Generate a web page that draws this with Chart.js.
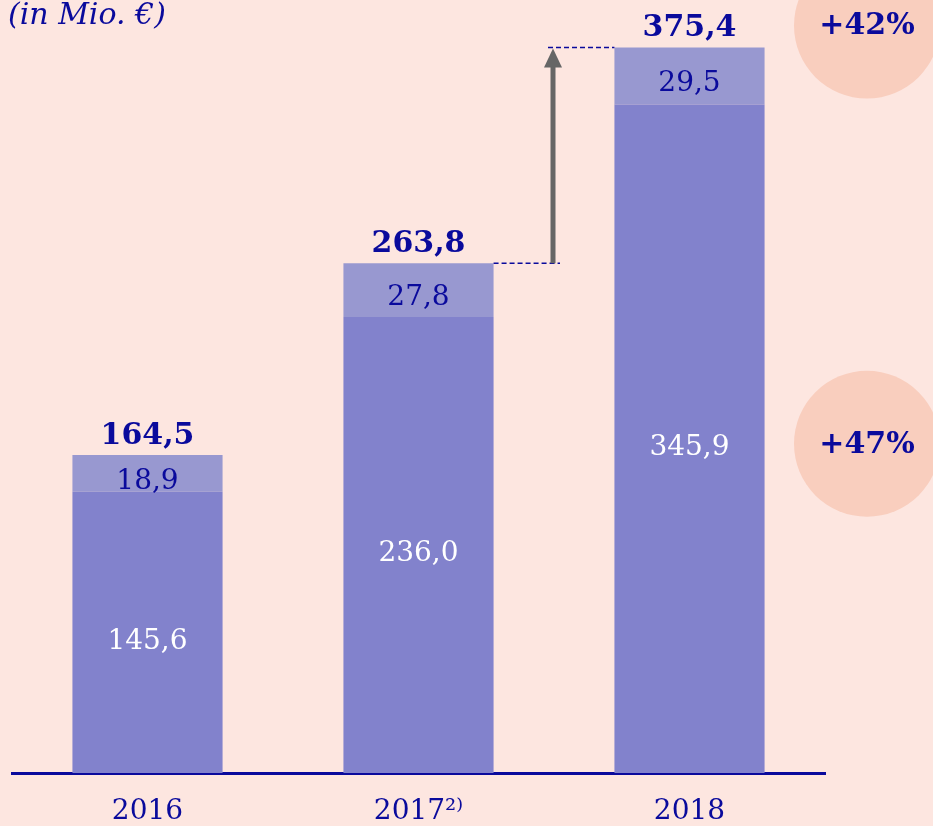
<!DOCTYPE html>
<html lang="de">
<head>
<meta charset="utf-8">
<title>Umsatz (in Mio. €)</title>
<script src="https://cdn.jsdelivr.net/npm/chart.js@4.4.1/dist/chart.umd.min.js"></script>
<style>
    html, body { margin: 0; padding: 0; background: #fde6e0; }
    #wrap { position: relative; width: 933px; height: 826px; }
</style>
</head>
<body>
<div id="wrap"><canvas id="umsatzChart"></canvas></div>
<script>
const years = ['2016', '2017²⁾', '2018'];
const baseValues = [145.6, 236.0, 345.9];
const extraValues = [18.9, 27.8, 29.5];
const totals = [164.5, 263.8, 375.4];
const growthTotal = '+42%';
const growthBase = '+47%';

const NAVY = '#0a0a9c';
const SERIF = '"DejaVu Serif", "Liberation Serif", serif';

function fmt(v) {
    return v.toFixed(1).replace('.', ',');
}

// labels, arrow, circles and title drawn on top of the bars
const overlayPlugin = {
    id: 'overlay',
    beforeDatasetsDraw(chart) {
        const ctx = chart.ctx;
        const y = chart.scales.y;
        const baseMeta = chart.getDatasetMeta(0);

        // circles behind the growth figures
        const cx = 867;
        const c1y = y.getPixelForValue(totals[2]) - 22;
        const c2y = (baseMeta.data[2].y + baseMeta.data[2].base) / 2 + 5;
        ctx.save();
        ctx.fillStyle = '#f9cebe';
        [c1y, c2y].forEach(cy => {
            ctx.beginPath();
            ctx.arc(cx, cy, 73, 0, Math.PI * 2);
            ctx.fill();
        });
        ctx.restore();
    },
    afterDatasetsDraw(chart) {
        const ctx = chart.ctx;
        const y = chart.scales.y;
        const baseMeta = chart.getDatasetMeta(0);
        const extraMeta = chart.getDatasetMeta(1);

        ctx.save();
        ctx.textAlign = 'center';
        ctx.textBaseline = 'middle';

        baseMeta.data.forEach((bar, i) => {
            const top = extraMeta.data[i];

            ctx.fillStyle = '#ffffff';
            ctx.font = '28px ' + SERIF;
            ctx.fillText(fmt(baseValues[i]), bar.x, (bar.y + bar.base) / 2 + 9);

            ctx.fillStyle = NAVY;
            ctx.fillText(fmt(extraValues[i]), top.x, (top.y + top.base) / 2 + 8);

            ctx.font = 'bold 30px ' + SERIF;
            ctx.fillText(fmt(totals[i]), top.x, y.getPixelForValue(totals[i]) - 19);
        });

        // dashed guides and growth arrow between 2017 and 2018
        const b17 = extraMeta.data[1];
        const b18 = extraMeta.data[2];
        const y17 = y.getPixelForValue(totals[1]);
        const y18 = y.getPixelForValue(totals[2]);
        const ax = 553;

        ctx.strokeStyle = NAVY;
        ctx.lineWidth = 1.5;
        ctx.setLineDash([5, 3]);
        ctx.beginPath();
        ctx.moveTo(b17.x + b17.width / 2, y17);
        ctx.lineTo(ax + 7, y17);
        ctx.moveTo(ax - 5, y18);
        ctx.lineTo(b18.x - b18.width / 2, y18);
        ctx.stroke();
        ctx.setLineDash([]);

        ctx.strokeStyle = '#666666';
        ctx.fillStyle = '#666666';
        ctx.lineWidth = 5;
        ctx.beginPath();
        ctx.moveTo(ax, y17);
        ctx.lineTo(ax, y18 + 18);
        ctx.stroke();
        ctx.beginPath();
        ctx.moveTo(ax, y18 + 1);
        ctx.lineTo(ax - 9, y18 + 20);
        ctx.lineTo(ax + 9, y18 + 20);
        ctx.closePath();
        ctx.fill();

        // growth figures
        const c1y = y18 - 22;
        const c2y = (baseMeta.data[2].y + baseMeta.data[2].base) / 2 + 5;
        ctx.fillStyle = NAVY;
        ctx.font = 'bold 30px ' + SERIF;
        ctx.fillText(growthTotal, 867, c1y + 1);
        ctx.fillText(growthBase, 867, c2y + 1);

        // unit note
        ctx.textAlign = 'left';
        ctx.font = 'italic 30px ' + SERIF;
        ctx.fillText('(in Mio. €)', 8, 16);

        ctx.restore();
    }
};

new Chart(document.getElementById('umsatzChart'), {
    type: 'bar',
    data: {
        labels: years,
        datasets: [
            {
                label: 'Basis',
                data: baseValues,
                backgroundColor: '#8282cc',
                barPercentage: 0.554,
                categoryPercentage: 1,
            },
            {
                label: 'Zusatz',
                data: extraValues,
                backgroundColor: '#9898d0',
                barPercentage: 0.554,
                categoryPercentage: 1,
            },
        ],
    },
    options: {
        responsive: true,
        maintainAspectRatio: false,
        animation: false,
        layout: {
            padding: { left: 12, right: 108, top: 0, bottom: 0 },
        },
        plugins: {
            legend: { display: false },
            tooltip: { enabled: false },
        },
        scales: {
            x: {
                stacked: true,
                grid: { display: false },
                border: { color: NAVY, width: 3 },
                ticks: {
                    color: NAVY,
                    padding: 14,
                    font: { family: SERIF, size: 28 },
                },
                afterFit(scale) {
                    scale.height = 53;
                },
            },
            y: {
                stacked: true,
                display: false,
                min: 0,
                max: 400,
            },
        },
    },
    plugins: [overlayPlugin],
});
</script>
</body>
</html>
